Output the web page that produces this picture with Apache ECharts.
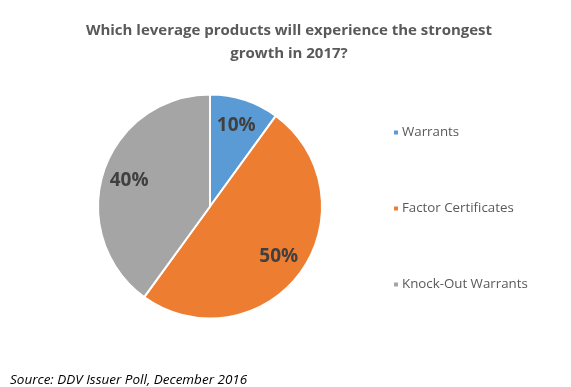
<!DOCTYPE html>
<html><head><meta charset="utf-8">
<script src="https://cdn.jsdelivr.net/npm/echarts@6/dist/echarts.min.js"></script>
<style>html,body{margin:0;padding:0;background:#fff}#c{width:571px;height:387px}</style>
</head><body><div id="c"></div>
<script>
const categories = ['Warrants', 'Factor Certificates', 'Knock-Out Warrants'];
const values = [10, 50, 40];
const colors = ['#5B9BD5', '#ED7D31', '#A5A5A5'];
const titleText = 'Which leverage products will experience the strongest\ngrowth in 2017?';
const sourceText = 'Source: DDV Issuer Poll, December 2016';

const data = categories.map((n, i) => ({ name: n, value: values[i], itemStyle: { color: colors[i] } }));
const chart = echarts.init(document.getElementById('c'));
chart.setOption({
  animation: false,
  title: [{
    text: titleText, left: 284, top: 14, textAlign: 'center',
    textStyle: { fontFamily: 'Open Sans', fontWeight: 'bold', fontSize: 15, color: '#595959', lineHeight: 23 }
  }, {
    text: sourceText, left: 5, top: 368,
    textStyle: { fontFamily: 'Open Sans', fontStyle: 'italic', fontWeight: 'normal', fontSize: 13.5, color: '#000' }
  }],
  legend: {
    orient: 'vertical', left: 387, top: 120, icon: 'rect', itemWidth: 6, itemHeight: 6, itemGap: 61,
    data: categories,
    textStyle: { fontFamily: 'Open Sans', fontSize: 13.3, color: '#595959', lineHeight: 15, padding: [0, 0, 0, -2] }
  },
  series: [{
    type: 'pie', center: [210, 206.5], radius: 112, startAngle: 90, clockwise: true,
    data: data, label: { show: false }, labelLine: { show: false },
    itemStyle: { borderColor: '#fff', borderWidth: 2 }, emphasis: { disabled: true }, silent: true
  }, {
    type: 'pie', center: [210, 206.5], radius: [52, 112], startAngle: 90, clockwise: true,
    data: categories.map((n, i) => ({ name: n, value: values[i] })),
    itemStyle: { color: 'rgba(0,0,0,0)' }, legendHoverLink: false, silent: true,
    emphasis: { disabled: true },
    label: { show: true, position: 'inside', formatter: '{c}%', fontFamily: 'Open Sans', fontWeight: 'bold', fontSize: 19, color: '#404040' },
    labelLine: { show: false }
  }]
});
</script></body></html>
